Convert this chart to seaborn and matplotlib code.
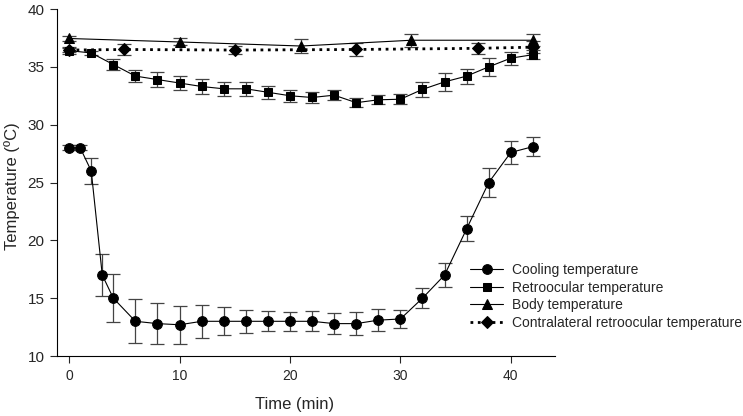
import matplotlib
matplotlib.use("Agg")
import matplotlib.pyplot as plt
import seaborn as sns
import pandas as pd

# data (time in min, temperature in degC, +/- error)
cool_time = [0, 1, 2, 3, 4, 6, 8, 10, 12, 14, 16, 18, 20, 22, 24, 26, 28, 30, 32, 34, 36, 38, 40, 42]
cool_temp = [28, 28, 26, 17, 15, 13, 12.8, 12.7, 13, 13, 13, 13, 13, 13, 12.8, 12.8, 13.1, 13.2,
             15, 17, 21, 25, 27.6, 28.1]
cool_err = [0.2, 0.2, 1.1, 1.85, 2.1, 1.9, 1.8, 1.65, 1.45, 1.2, 1.0, 0.85, 0.8, 0.85, 0.9, 1.0,
            0.95, 0.8, 0.85, 1.0, 1.1, 1.25, 1.0, 0.85]

retro_time = [0, 2, 4, 6, 8, 10, 12, 14, 16, 18, 20, 22, 24, 26, 28, 30, 32, 34, 36, 38, 40, 42]
retro_temp = [36.4, 36.2, 35.2, 34.2, 33.9, 33.6, 33.3, 33.1, 33.1, 32.8, 32.5, 32.35, 32.55, 31.9,
              32.15, 32.2, 33.05, 33.7, 34.2, 35.0, 35.75, 36.05]
retro_err = [0.3, 0.15, 0.5, 0.55, 0.65, 0.6, 0.65, 0.6, 0.6, 0.55, 0.5, 0.5, 0.45, 0.4, 0.4, 0.43,
             0.65, 0.75, 0.65, 0.75, 0.55, 0.4]

body_time = [0, 10, 21, 31, 42]
body_temp = [37.45, 37.15, 36.8, 37.3, 37.3]
body_err = [0.25, 0.3, 0.6, 0.55, 0.5]

contra_time = [0, 5, 15, 26, 37, 42]
contra_temp = [36.45, 36.5, 36.45, 36.5, 36.6, 36.7]
contra_err = [0.2, 0.45, 0.35, 0.6, 0.5, 0.5]

sns.set_style("ticks")
plt.rcParams['font.family'] = ['Liberation Sans', 'DejaVu Sans']

fig = plt.figure(figsize=(7.43, 4.16), dpi=100)
ax = fig.add_axes([57 / 743, 60 / 416, 498 / 743, 347 / 416])

series = [
    ("Cooling temperature", cool_time, cool_temp, cool_err, "o", 7, "-", 0.8),
    ("Retroocular temperature", retro_time, retro_temp, retro_err, "s", 6, "-", 0.8),
    ("Body temperature", body_time, body_temp, body_err, "^", 6.5, "-", 0.8),
    ("Contralateral retroocular temperature", contra_time, contra_temp, contra_err, "D", 6, ":", 2.0),
]

for name, t, v, e, mk, ms, ls, lw in series:
    df = pd.DataFrame({"time": t, "temp": v})
    ax.errorbar(t, v, yerr=e, fmt="none", ecolor="#444444", elinewidth=0.9,
                capsize=4.7, capthick=0.9, zorder=2)
    sns.lineplot(data=df, x="time", y="temp", ax=ax, color="black", linestyle=ls,
                 linewidth=lw, marker=mk, markersize=ms, markeredgecolor="black",
                 label=name, zorder=3)

ax.set_xlim(-1.1, 44)
ax.set_ylim(10, 40)
ax.set_xticks([0, 10, 20, 30, 40])
ax.set_yticks([10, 15, 20, 25, 30, 35, 40])
ax.tick_params(direction="out", length=5, width=0.8, pad=4)
ax.tick_params(axis="x", labelsize=10)
ax.tick_params(axis="y", labelsize=11)
for s in ["left", "bottom"]:
    ax.spines[s].set_linewidth(0.8)
    ax.spines[s].set_color("black")
sns.despine(ax=ax)

ax.set_xlabel("Time (min)", fontsize=12)
ax.set_ylabel("Temperature (ºC)", fontsize=12)
ax.xaxis.set_label_coords(0.478, -0.118)
ax.yaxis.set_label_coords(-0.074, 0.49)

ax.legend(loc="upper left", bbox_to_anchor=(470 / 743, 1 - 263 / 416),
          bbox_transform=fig.transFigure, frameon=False, fontsize=10,
          labelspacing=0.26, handlelength=2.4, handletextpad=0.6,
          borderpad=0, borderaxespad=0)

fig.savefig("out.png", dpi=100)
